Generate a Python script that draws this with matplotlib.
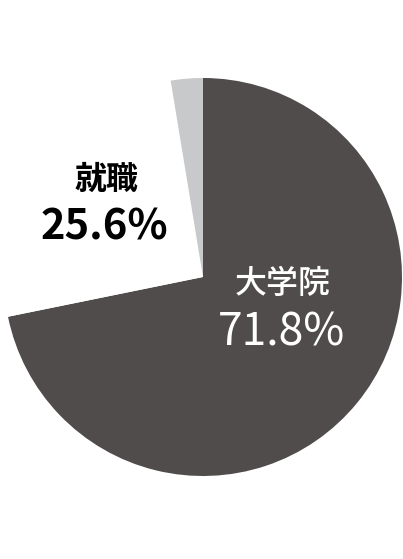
import matplotlib.pyplot as plt

# 進路データ
labels = ['大学院', '就職', 'その他']
values = [71.8, 25.6, 2.6]
colors = ['#4f4c4b', '#ffffff', '#c8c9cb']

plt.rcParams['font.family'] = ['Noto Sans CJK JP', 'DejaVu Sans']

W, H = 403, 559
fig = plt.figure(figsize=(W / 100, H / 100), dpi=100)

# 円の中心と半径 (ピクセル)
cx, cy, r = 203, 277, 199
ax = fig.add_axes([(cx - r) / W, (H - cy - r) / H, 2 * r / W, 2 * r / H])

ax.pie(values, colors=colors, startangle=90, counterclock=False,
       radius=1, wedgeprops={'linewidth': 0})
ax.set_xlim(-1, 1)
ax.set_ylim(-1, 1)
ax.set_aspect('equal')
ax.axis('off')

# ラベル
def px(x, y):
    return ((x - cx) / r, (cy - y) / r)

ax.text(*px(106, 180), labels[1], ha='center', va='center',
        fontsize=23, fontweight='bold', color='black')
ax.text(*px(104, 228), f'{values[1]}%', ha='center', va='center',
        fontsize=30, fontweight='bold', color='black')
ax.text(*px(283, 284), labels[0], ha='center', va='center',
        fontsize=23, fontweight='medium', color='white')
ax.text(*px(282, 332), f'{values[0]}%', ha='center', va='center',
        fontsize=32, color='white')

fig.savefig('out.png', dpi=100)
